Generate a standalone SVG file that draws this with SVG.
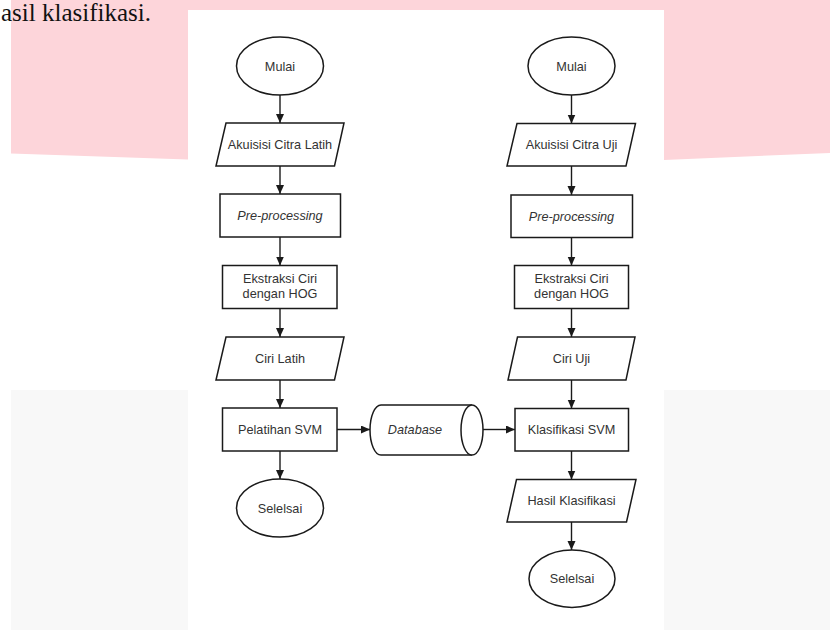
<svg xmlns="http://www.w3.org/2000/svg" width="830" height="630" viewBox="0 0 830 630">
<defs>
<style>
.shape{fill:#fff;stroke:#1a1a1a;stroke-width:1.5}
.lbl{font-family:"Liberation Sans",Arial,sans-serif;font-size:12.7px;fill:#333;text-anchor:middle}
.it{font-style:italic}
.conn{fill:none;stroke:#1a1a1a;stroke-width:1.4}
</style>
<marker id="ah" markerUnits="userSpaceOnUse" markerWidth="10" markerHeight="9" refX="9" refY="4" orient="auto">
<path d="M0,0 L9,4 L0,8 Z" fill="#1a1a1a"/>
</marker>
</defs>
<rect x="0" y="0" width="830" height="630" fill="#fff"/>
<polygon points="11,0 830,0 830,153 664,160 426,162 188,159.5 11,153.5" fill="#fdd5da"/>
<rect x="11" y="390" width="819" height="240" fill="#f8f8f8"/>
<text x="1" y="21" font-family="'Liberation Serif','Times New Roman',serif" font-size="25" fill="#111">asil klasifikasi.</text>
<rect x="188" y="10" width="476" height="620" fill="#fff"/>

<g id="connectors">
<line class="conn" x1="280" y1="95" x2="280" y2="123" marker-end="url(#ah)"/>
<line class="conn" x1="280" y1="166" x2="280" y2="194" marker-end="url(#ah)"/>
<line class="conn" x1="280" y1="237" x2="280" y2="265.5" marker-end="url(#ah)"/>
<line class="conn" x1="280" y1="308.5" x2="280" y2="337" marker-end="url(#ah)"/>
<line class="conn" x1="280" y1="380" x2="280" y2="408" marker-end="url(#ah)"/>
<line class="conn" x1="280" y1="451" x2="280" y2="479" marker-end="url(#ah)"/>
<line class="conn" x1="337" y1="429.5" x2="370" y2="429.5" marker-end="url(#ah)"/>
<line class="conn" x1="483" y1="429.5" x2="515" y2="429.5" marker-end="url(#ah)"/>
<line class="conn" x1="571.5" y1="95" x2="571.5" y2="123.5" marker-end="url(#ah)"/>
<line class="conn" x1="571.5" y1="166" x2="571.5" y2="195" marker-end="url(#ah)"/>
<line class="conn" x1="571.5" y1="237.5" x2="571.5" y2="265.5" marker-end="url(#ah)"/>
<line class="conn" x1="571.5" y1="308.5" x2="571.5" y2="337" marker-end="url(#ah)"/>
<line class="conn" x1="571.5" y1="380" x2="571.5" y2="408.5" marker-end="url(#ah)"/>
<line class="conn" x1="571.5" y1="451" x2="571.5" y2="479.5" marker-end="url(#ah)"/>
<line class="conn" x1="571.5" y1="522" x2="571.5" y2="550" marker-end="url(#ah)"/>
</g>

<g id="mulai-latih">
<ellipse class="shape" cx="280" cy="66" rx="43.5" ry="29"/>
<text class="lbl" x="280" y="70.5">Mulai</text>
</g>
<g id="akuisisi-latih">
<polygon class="shape" points="226,123 344,123 334.5,166 216,166"/>
<text class="lbl" x="280" y="149">Akuisisi Citra Latih</text>
</g>
<g id="preprocessing-latih">
<rect class="shape" x="220" y="194" width="120.5" height="43"/>
<text class="lbl it" x="280" y="220">Pre-processing</text>
</g>
<g id="ekstraksi-latih">
<rect class="shape" x="222.5" y="265.5" width="114.5" height="43"/>
<text class="lbl" x="280" y="283">Ekstraksi Ciri</text>
<text class="lbl" x="280" y="298">dengan HOG</text>
</g>
<g id="ciri-latih">
<polygon class="shape" points="226,337 344,337 334.5,380 216,380"/>
<text class="lbl" x="280" y="363">Ciri Latih</text>
</g>
<g id="pelatihan-svm">
<rect class="shape" x="222.5" y="408" width="114.5" height="43"/>
<text class="lbl" x="280" y="434">Pelatihan SVM</text>
</g>
<g id="selesai-latih">
<ellipse class="shape" cx="280" cy="508" rx="43.5" ry="29"/>
<text class="lbl" x="280" y="512.5">Selelsai</text>
</g>

<g id="database">
<path class="shape" d="M381,405 H472 A11,25 0 0 1 472,455 H381 A11,25 0 0 1 381,405 Z"/>
<path class="shape" fill="none" d="M472,405 A11,25 0 0 0 472,455"/>
<text class="lbl it" x="415" y="434">Database</text>
</g>

<g id="mulai-uji">
<ellipse class="shape" cx="571.5" cy="66" rx="43.5" ry="29"/>
<text class="lbl" x="571.5" y="70.5">Mulai</text>
</g>
<g id="akuisisi-uji">
<polygon class="shape" points="517,123.5 635.5,123.5 626,166 507,166"/>
<text class="lbl" x="571.5" y="149">Akuisisi Citra Uji</text>
</g>
<g id="preprocessing-uji">
<rect class="shape" x="511" y="195" width="121.5" height="42.5"/>
<text class="lbl it" x="571.5" y="220.5">Pre-processing</text>
</g>
<g id="ekstraksi-uji">
<rect class="shape" x="514.5" y="265.5" width="114" height="43"/>
<text class="lbl" x="571.5" y="283">Ekstraksi Ciri</text>
<text class="lbl" x="571.5" y="298">dengan HOG</text>
</g>
<g id="ciri-uji">
<polygon class="shape" points="517.5,337 635,337 626,380 508,380"/>
<text class="lbl" x="571.5" y="363">Ciri Uji</text>
</g>
<g id="klasifikasi-svm">
<rect class="shape" x="515" y="408.5" width="113.5" height="42.5"/>
<text class="lbl" x="571.5" y="434">Klasifikasi SVM</text>
</g>
<g id="hasil-klasifikasi">
<polygon class="shape" points="516.5,479.5 636,479.5 626.5,522 507,522"/>
<text class="lbl" x="571.5" y="505">Hasil Klasifikasi</text>
</g>
<g id="selesai-uji">
<ellipse class="shape" cx="572" cy="578.7" rx="43" ry="28.7"/>
<text class="lbl" x="572" y="583">Selelsai</text>
</g>
</svg>
